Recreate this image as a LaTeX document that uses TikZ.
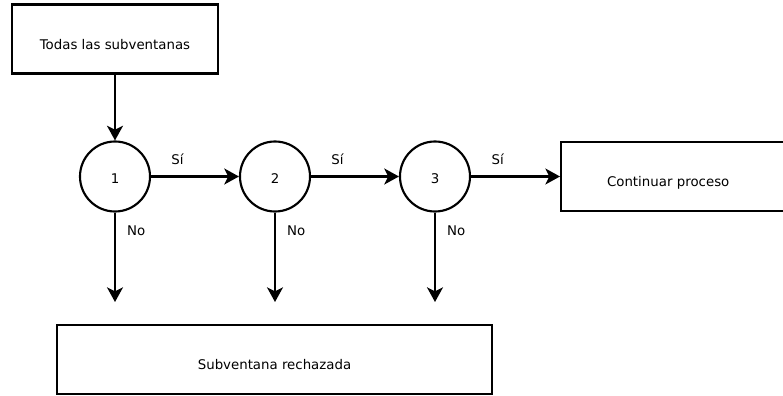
\documentclass[tikz,border=0pt]{standalone}
\usepackage{fontspec}
\setmainfont{DejaVu Sans}
\usetikzlibrary{positioning,arrows.meta}

\begin{document}
\begin{tikzpicture}[x=0.75pt,y=0.75pt,line width=1.6pt,
 font=\fontsize{10}{12}\selectfont,
 caja/.style={rectangle,draw,inner ysep=0pt,text height=33.75pt,text depth=18pt},
 nodo/.style={circle,draw,minimum size=52.5pt,inner sep=0pt},
 flecha/.style={-{Stealth[length=11pt,width=12pt,inset=3pt]}}]
\useasboundingbox (0,0) rectangle (783,396);
\node[caja,minimum width=154.5pt] (todas) at (115,357) {Todas las subventanas};
\node[caja,anchor=west,text width=142.5pt,align=left,inner xsep=34.5pt] (cont) at (560,219.5) {Continuar proceso};
\node[caja,minimum width=326.25pt] (rech) at (274.5,36.5) {Subventana rechazada};
\foreach \i/\x in {1/115,2/275,3/435} {
 \node[nodo,text height=10pt] (c\i) at (\x,219.5) {\i};
 \coordinate (r\i) at (\x,94);
 \draw[flecha] (c\i) -- node[pos=0.2,right=5pt] {No} (r\i);
}
\draw[flecha] (todas) -- (c1);
\draw[flecha] (c1) -- node[pos=0.3,above=5pt] {Sí} (c2);
\draw[flecha] (c2) -- node[pos=0.3,above=5pt] {Sí} (c3);
\draw[flecha] (c3) -- node[pos=0.3,above=5pt] {Sí} (cont);
\end{tikzpicture}
\end{document}
